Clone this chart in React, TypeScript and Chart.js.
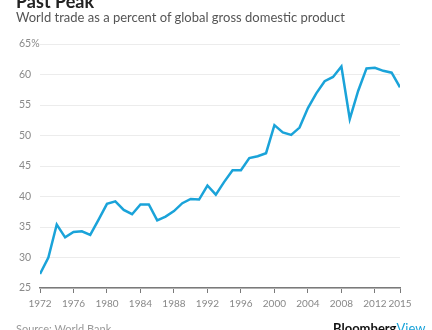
import React, { useEffect, useRef } from "react";
import { Chart, registerables } from "chart.js";

Chart.register(...registerables);

const years: number[] = [
  1972, 1973, 1974, 1975, 1976, 1977, 1978, 1979, 1980, 1981, 1982, 1983, 1984, 1985, 1986,
  1987, 1988, 1989, 1990, 1991, 1992, 1993, 1994, 1995, 1996, 1997, 1998, 1999, 2000, 2001,
  2002, 2003, 2004, 2005, 2006, 2007, 2008, 2009, 2010, 2011, 2012, 2013, 2014, 2015,
];
const tradePct: number[] = [
  27.3, 30.0, 35.4, 33.3, 34.2, 34.3, 33.7, 36.2, 38.8, 39.2, 37.8, 37.1, 38.7, 38.7, 36.1,
  36.7, 37.6, 38.9, 39.6, 39.5, 41.8, 40.3, 42.4, 44.3, 44.3, 46.3, 46.6, 47.1, 51.7, 50.5,
  50.1, 51.3, 54.5, 56.9, 58.9, 59.6, 61.3, 52.7, 57.3, 61.0, 61.1, 60.6, 60.3, 57.9,
];
const xTicks: number[] = [1972, 1976, 1980, 1984, 1988, 1992, 1996, 2000, 2004, 2008, 2012, 2015];
const yTicks: number[] = [25, 30, 35, 40, 45, 50, 55, 60, 65];

const FONT = "Lato, 'Open Sans', sans-serif";

export default function App() {
  const ref = useRef<HTMLCanvasElement | null>(null);
  useEffect(() => {
    if (!ref.current) return;
    const chart = new Chart(ref.current, {
      type: "line",
      data: {
        datasets: [
          {
            data: years.map((y, i) => ({ x: y, y: tradePct[i] })),
            borderColor: "#1aa3d9",
            borderWidth: 2.5,
            pointRadius: 0,
            tension: 0,
            fill: false,
          },
        ],
      },
      options: {
        animation: false,
        responsive: false,
        maintainAspectRatio: false,
        layout: { padding: { top: 44, left: 19, right: 32, bottom: 15 } },
        plugins: { legend: { display: false }, tooltip: { enabled: false }, title: { display: false } },
        scales: {
          x: {
            type: "linear",
            min: 1972,
            max: 2015,
            afterBuildTicks: (s: any) => {
              s.ticks = xTicks.map((v) => ({ value: v }));
            },
            ticks: {
              autoSkip: false,
              maxRotation: 0,
              padding: 5,
              color: "#888888",
              font: { family: FONT, size: 10 },
              callback: (v: any) => String(v),
            },
            grid: {
              display: true,
              drawOnChartArea: false,
              drawTicks: true,
              tickLength: 5,
              color: "#7a7a7a",
              lineWidth: 1,
            },
            border: { display: true, color: "#7a7a7a", width: 1.5 },
          },
          y: {
            min: 25,
            max: 65,
            afterBuildTicks: (s: any) => {
              s.ticks = yTicks.map((v) => ({ value: v }));
            },
            afterFit: (s: any) => {
              s.width = 21;
            },
            ticks: {
              crossAlign: "far",
              padding: 0,
              color: "#8a8a8a",
              font: { family: FONT, size: 10.5 },
              callback: (v: any) => (v === 65 ? "65%" : String(v)),
            },
            grid: { color: "#ececec", lineWidth: 1, drawTicks: false },
            border: { display: false },
          },
        },
      },
    });
    return () => chart.destroy();
  }, []);

  return (
    <div
      style={{
        position: "fixed",
        top: 0,
        left: 0,
        width: 432,
        height: 330,
        overflow: "hidden",
        background: "#fff",
        fontFamily: FONT,
      }}
    >
      <canvas ref={ref} width={432} height={330} style={{ position: "absolute", top: 0, left: 0 }} />
      <div
        style={{
          position: "absolute",
          left: 16,
          top: -8,
          fontSize: 18,
          fontWeight: 700,
          lineHeight: "18px",
          color: "#222",
          whiteSpace: "nowrap",
        }}
      >
        Past Peak
      </div>
      <div
        style={{
          position: "absolute",
          left: 16,
          top: 9,
          fontSize: 13,
          lineHeight: "16px",
          color: "#555",
          whiteSpace: "nowrap",
        }}
      >
        World trade as a percent of global gross domestic product
      </div>
      <div
        style={{
          position: "absolute",
          left: 16,
          top: 322,
          fontSize: 11,
          lineHeight: "14px",
          color: "#999",
          whiteSpace: "nowrap",
        }}
      >
        Source: World Bank
      </div>
      <div
        style={{
          position: "absolute",
          left: 333,
          top: 320,
          fontSize: 13,
          fontWeight: 700,
          lineHeight: "16px",
          color: "#111",
          whiteSpace: "nowrap",
        }}
      >
        Bloomberg<span style={{ color: "#1aa3d9", fontWeight: 400 }}>View</span>
      </div>
    </div>
  );
}
